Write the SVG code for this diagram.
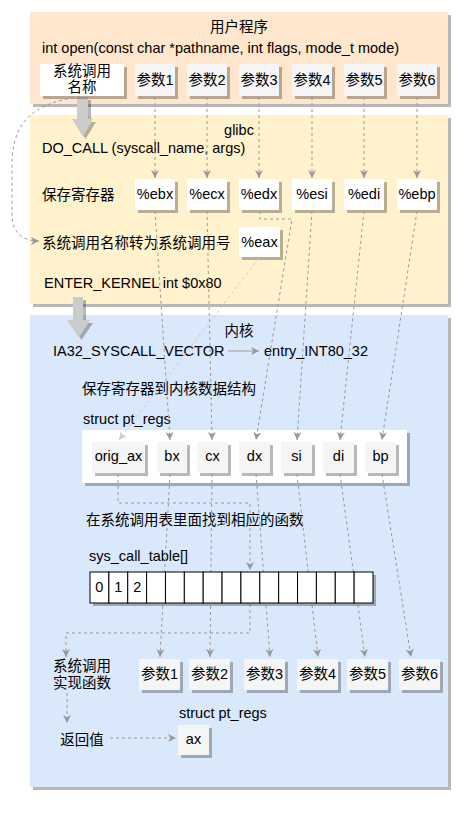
<svg xmlns="http://www.w3.org/2000/svg" width="471" height="813" viewBox="0 0 471 813">
<style>
text{font-family:"Liberation Sans","Noto Sans CJK SC",sans-serif;font-size:14.5px;fill:#000}
.c{text-anchor:middle}
.sh{filter:url(#sh)}
.box{fill:#f5f5f5;stroke:none}
.wbox{fill:#fff;stroke:none}
.dl{fill:none;stroke:#999;stroke-width:1;stroke-dasharray:3 3;marker-end:url(#ah)}
.dl2{fill:none;stroke:#ccc;stroke-width:1;stroke-dasharray:3 3;marker-end:url(#ah2)}
.cell{fill:#fff;stroke:#000;stroke-width:1}
.blk{fill:#ccc;stroke:none}
</style>
<defs>
<filter id="sh" x="-10%" y="-10%" width="130%" height="130%">
<feDropShadow dx="3" dy="3" stdDeviation="0.4" flood-color="#000" flood-opacity="0.28"/>
</filter>
<marker id="ah" markerWidth="9" markerHeight="9" refX="8" refY="4.5" orient="auto" markerUnits="userSpaceOnUse">
<path d="M0,0.5 L8,4.5 L0,8.5 L2.2,4.5 Z" fill="#999"/>
</marker>
<marker id="ah2" markerWidth="9" markerHeight="9" refX="8" refY="4.5" orient="auto" markerUnits="userSpaceOnUse">
<path d="M0,0.5 L8,4.5 L0,8.5 L2.2,4.5 Z" fill="#ccc"/>
</marker>
<marker id="ahs" markerWidth="9" markerHeight="9" refX="8" refY="4.5" orient="auto" markerUnits="userSpaceOnUse">
<path d="M0,0.5 L8,4.5 L0,8.5 L2.2,4.5 Z" fill="#999"/>
</marker>
</defs>

<g id="panel-user">
<rect class="sh" x="30" y="12" width="418" height="92" fill="#FFE6CC"/>
<text class="c" x="239" y="32">用户程序</text>
<text x="42" y="53">int open(const char *pathname, int flags, mode_t mode)</text>
</g>
<g id="panel-glibc">
<rect class="sh" x="30" y="115" width="418" height="189" fill="#FFF2CC"/>
<text class="c" x="239" y="135">glibc</text>
<text x="42" y="153">DO_CALL (syscall_name, args)</text>
<text x="42" y="200">保存寄存器</text>
<text x="42" y="248">系统调用名称转为系统调用号</text>
<text x="44" y="288">ENTER_KERNEL int $0x80</text>
</g>
<g id="panel-kernel">
<rect class="sh" x="30" y="315" width="418" height="472" fill="#DAE8FC"/>
<text class="c" x="239" y="336">内核</text>
<text x="53" y="356">IA32_SYSCALL_VECTOR</text>
<text x="264" y="356">entry_INT80_32</text>
<text x="82" y="394">保存寄存器到内核数据结构</text>
<text x="83" y="424">struct pt_regs</text>
<text x="86" y="525">在系统调用表里面找到相应的函数</text>
<text x="89" y="561">sys_call_table[]</text>
<text class="c" x="82" y="671">系统调用</text>
<text class="c" x="82" y="688">实现函数</text>
<text class="c" x="82" y="745">返回值</text>
<text x="179" y="718">struct pt_regs</text>
</g>

<g id="block-arrows">
<polygon class="blk sh" points="77,97 88,97 88,119 93,119 82.5,136 72,119 77,119"/>
<polygon class="blk sh" points="73,297 83,297 83,320 90,320 78.5,337 67,320 73,320"/>
</g>

<g id="node-syscall-name"><rect class="wbox sh" x="40" y="64" width="84" height="32"/><text class="c" x="82" y="76">系统调用</text><text class="c" x="82" y="92">名称</text></g>
<g id="node-arg1"><rect class="box sh" x="135" y="64" width="40" height="32"/><text class="c" x="155" y="85">参数1</text></g>
<g id="node-arg2"><rect class="box sh" x="187" y="64" width="40" height="32"/><text class="c" x="207" y="85">参数2</text></g>
<g id="node-arg3"><rect class="box sh" x="239" y="64" width="40" height="32"/><text class="c" x="259" y="85">参数3</text></g>
<g id="node-arg4"><rect class="box sh" x="292" y="64" width="40" height="32"/><text class="c" x="312" y="85">参数4</text></g>
<g id="node-arg5"><rect class="box sh" x="344" y="64" width="40" height="32"/><text class="c" x="364" y="85">参数5</text></g>
<g id="node-arg6"><rect class="box sh" x="397" y="64" width="40" height="32"/><text class="c" x="417" y="85">参数6</text></g>

<g id="node-ebx"><rect class="wbox sh" x="135" y="179" width="40" height="31"/><text class="c" x="155" y="199">%ebx</text></g>
<g id="node-ecx"><rect class="wbox sh" x="187" y="179" width="40" height="31"/><text class="c" x="207" y="199">%ecx</text></g>
<g id="node-edx"><rect class="wbox sh" x="239" y="179" width="40" height="31"/><text class="c" x="259" y="199">%edx</text></g>
<g id="node-esi"><rect class="wbox sh" x="292" y="179" width="40" height="31"/><text class="c" x="312" y="199">%esi</text></g>
<g id="node-edi"><rect class="wbox sh" x="344" y="179" width="40" height="31"/><text class="c" x="364" y="199">%edi</text></g>
<g id="node-ebp"><rect class="wbox sh" x="397" y="179" width="40" height="31"/><text class="c" x="417" y="199">%ebp</text></g>
<g id="node-eax"><rect class="wbox sh" x="239" y="227" width="41" height="30"/><text class="c" x="259.5" y="247">%eax</text></g>

<g id="node-pt-regs">
<rect class="wbox sh" x="82" y="430" width="325" height="53"/>
<rect class="box sh" x="92" y="442" width="53" height="31"/><text class="c" x="118.5" y="461">orig_ax</text>
<rect class="box sh" x="157" y="442" width="30" height="31"/><text class="c" x="172" y="461">bx</text>
<rect class="box sh" x="197" y="442" width="31" height="31"/><text class="c" x="212.5" y="461">cx</text>
<rect class="box sh" x="239" y="442" width="31" height="31"/><text class="c" x="254.5" y="461">dx</text>
<rect class="box sh" x="281" y="442" width="31" height="31"/><text class="c" x="296.5" y="461">si</text>
<rect class="box sh" x="323" y="442" width="31" height="31"/><text class="c" x="338.5" y="461">di</text>
<rect class="box sh" x="365" y="442" width="31" height="31"/><text class="c" x="380.5" y="461">bp</text>
</g>

<g id="connectors">
<path class="dl" d="M155,97 V178"/>
<path class="dl" d="M207,97 V178"/>
<path class="dl" d="M259,97 V178"/>
<path class="dl" d="M312,97 V178"/>
<path class="dl" d="M364,97 V178"/>
<path class="dl" d="M417,97 V178"/>
<path class="dl" d="M80,97 C30,103 12,125 12,165 L12,215 C12,232 22,241 39,241"/>
<path class="dl" d="M155,211 L170,440"/>
<path class="dl" d="M207,211 L212,440"/>
<path class="dl" d="M260,211 V219 H292 L256,440"/>
<path class="dl" d="M312,211 L297,440"/>
<path class="dl" d="M364,211 L340,440"/>
<path class="dl" d="M417,211 L382,440"/>
<path class="dl2" d="M259,258 L119,440"/>
<path d="M228,351 H259" fill="none" stroke="#999" stroke-width="1" marker-end="url(#ahs)"/>
<path class="dl" d="M170,474 L160,657"/>
<path class="dl" d="M212,474 L210,657"/>
<path class="dl" d="M256,474 L270,657"/>
<path class="dl" d="M297,474 L318,657"/>
<path class="dl" d="M340,474 L365,657"/>
<path class="dl" d="M382,474 L411,657"/>
<path class="dl" d="M118,474 V503 H250 V570"/>
<path class="dl" d="M250,604 V633 H66 V657"/>
<path class="dl" d="M67,693 V723"/>
<path class="dl" d="M110,738 H176"/>
</g>

<g id="node-sys-call-table">
<rect class="sh" x="90" y="572" width="283" height="31" fill="#fff"/>
<rect class="cell" x="90" y="572" width="18.87" height="31"/>
<rect class="cell" x="108.87" y="572" width="18.87" height="31"/>
<rect class="cell" x="127.73" y="572" width="18.87" height="31"/>
<rect class="cell" x="146.6" y="572" width="18.87" height="31"/>
<rect class="cell" x="165.47" y="572" width="18.87" height="31"/>
<rect class="cell" x="184.33" y="572" width="18.87" height="31"/>
<rect class="cell" x="203.2" y="572" width="18.87" height="31"/>
<rect class="cell" x="222.07" y="572" width="18.87" height="31"/>
<rect class="cell" x="240.93" y="572" width="18.87" height="31"/>
<rect class="cell" x="259.8" y="572" width="18.87" height="31"/>
<rect class="cell" x="278.67" y="572" width="18.87" height="31"/>
<rect class="cell" x="297.53" y="572" width="18.87" height="31"/>
<rect class="cell" x="316.4" y="572" width="18.87" height="31"/>
<rect class="cell" x="335.27" y="572" width="18.87" height="31"/>
<rect class="cell" x="354.13" y="572" width="18.87" height="31"/>
<text class="c" x="99.4" y="592">0</text>
<text class="c" x="118.3" y="592">1</text>
<text class="c" x="137.2" y="592">2</text>
</g>

<g id="node-p1"><rect class="box sh" x="139" y="659" width="41" height="31"/><text class="c" x="159.5" y="679">参数1</text></g>
<g id="node-p2"><rect class="box sh" x="189" y="659" width="41" height="31"/><text class="c" x="209.5" y="679">参数2</text></g>
<g id="node-p3"><rect class="box sh" x="244" y="659" width="41" height="31"/><text class="c" x="264.5" y="679">参数3</text></g>
<g id="node-p4"><rect class="box sh" x="297" y="659" width="41" height="31"/><text class="c" x="317.5" y="679">参数4</text></g>
<g id="node-p5"><rect class="box sh" x="347" y="659" width="41" height="31"/><text class="c" x="367.5" y="679">参数5</text></g>
<g id="node-p6"><rect class="box sh" x="399" y="659" width="41" height="31"/><text class="c" x="419.5" y="679">参数6</text></g>
<g id="node-ax"><rect class="box sh" x="178" y="725" width="31" height="30"/><text class="c" x="193.5" y="744">ax</text></g>
</svg>
